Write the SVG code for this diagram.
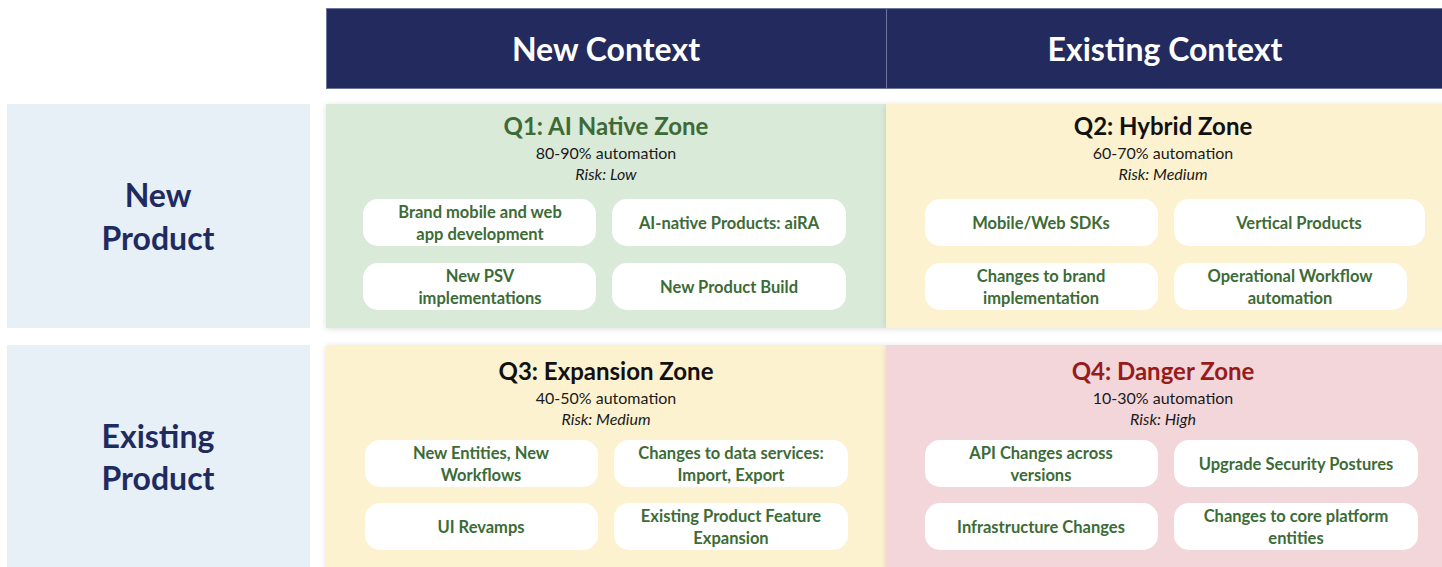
<svg xmlns="http://www.w3.org/2000/svg" width="1442" height="567" viewBox="0 0 1442 567">
  <defs>
    <filter id="soft" x="-5%" y="-10%" width="110%" height="120%">
      <feDropShadow dx="0" dy="1" stdDeviation="3" flood-color="#000" flood-opacity="0.12"/>
    </filter>
  </defs>
  <style>
    .hdr { fill: #222a5e; stroke: #6e76a0; stroke-width: 1; }
    .hdr-t { font-family: Lato, "Liberation Sans", sans-serif; font-weight: 700; font-size: 32px; fill: #ffffff; text-anchor: middle; }
    .rowbox { fill: #e8f0f7; }
    .row-t { font-family: Lato, "Liberation Sans", sans-serif; font-weight: 700; font-size: 32px; fill: #1f2a5e; text-anchor: middle; }
    .q1 { fill: #d9ead9; }
    .qy { fill: #fcf2d0; }
    .q4 { fill: #f3d6da; }
    .title { font-family: Lato, "Liberation Sans", sans-serif; font-weight: 700; font-size: 24px; text-anchor: middle; fill: #111111; }
    .green { fill: #3d6b35; }
    .red { fill: #961c1c; }
    .sub { font-family: Lato, "Liberation Sans", sans-serif; font-size: 16px; fill: #1a1a1a; text-anchor: middle; }
    .risk { font-style: italic; }
    .pill { fill: #ffffff; }
    .pill-t { font-family: Lato, "Liberation Sans", sans-serif; font-weight: 700; font-size: 16.5px; fill: #3d6b35; text-anchor: middle; }
  </style>

  <!-- column headers -->
  <g id="header-new-context">
    <rect class="hdr" x="326.5" y="8.5" width="560" height="80"/>
    <text class="hdr-t" x="606" y="61">New Context</text>
  </g>
  <g id="header-existing-context">
    <rect class="hdr" x="886.5" y="8.5" width="560" height="80"/>
    <text class="hdr-t" x="1165" y="61">Existing Context</text>
  </g>

  <!-- row headers -->
  <g id="row-new-product">
    <rect class="rowbox" x="7" y="104" width="303" height="224"/>
    <text class="row-t" x="158" y="207">New</text>
    <text class="row-t" x="158" y="250">Product</text>
  </g>
  <g id="row-existing-product">
    <rect class="rowbox" x="7" y="345" width="303" height="230"/>
    <text class="row-t" x="158" y="448">Existing</text>
    <text class="row-t" x="158" y="490">Product</text>
  </g>

  <!-- Q1 -->
  <g id="q1-ai-native">
    <rect class="q1" x="326" y="104" width="560" height="224" filter="url(#soft)"/>
    <text class="title green" x="606" y="135">Q1: AI Native Zone</text>
    <text class="sub" x="606" y="159">80-90% automation</text>
    <text class="sub risk" x="606" y="180">Risk: Low</text>
    <rect class="pill" x="363" y="199" width="233" height="47" rx="15"/>
    <text class="pill-t" x="480" y="218">Brand mobile and web</text>
    <text class="pill-t" x="480" y="240">app development</text>
    <rect class="pill" x="612" y="199" width="234" height="47" rx="15"/>
    <text class="pill-t" x="729" y="229">AI-native Products: aiRA</text>
    <rect class="pill" x="363" y="263" width="233" height="47" rx="15"/>
    <text class="pill-t" x="480" y="282">New PSV</text>
    <text class="pill-t" x="480" y="304">implementations</text>
    <rect class="pill" x="612" y="263" width="234" height="47" rx="15"/>
    <text class="pill-t" x="729" y="293">New Product Build</text>
  </g>

  <!-- Q2 -->
  <g id="q2-hybrid">
    <rect class="qy" x="886" y="104" width="570" height="224" filter="url(#soft)"/>
    <text class="title" x="1163" y="135">Q2: Hybrid Zone</text>
    <text class="sub" x="1163" y="159">60-70% automation</text>
    <text class="sub risk" x="1163" y="180">Risk: Medium</text>
    <rect class="pill" x="925" y="199" width="233" height="47" rx="15"/>
    <text class="pill-t" x="1041" y="229">Mobile/Web SDKs</text>
    <rect class="pill" x="1174" y="199" width="251" height="47" rx="15"/>
    <text class="pill-t" x="1299" y="229">Vertical Products</text>
    <rect class="pill" x="925" y="263" width="233" height="47" rx="15"/>
    <text class="pill-t" x="1041" y="282">Changes to brand</text>
    <text class="pill-t" x="1041" y="304">implementation</text>
    <rect class="pill" x="1174" y="263" width="233" height="47" rx="15"/>
    <text class="pill-t" x="1290" y="282">Operational Workflow</text>
    <text class="pill-t" x="1290" y="304">automation</text>
  </g>

  <!-- Q3 -->
  <g id="q3-expansion">
    <rect class="qy" x="326" y="345" width="560" height="230" filter="url(#soft)"/>
    <text class="title" x="606" y="380">Q3: Expansion Zone</text>
    <text class="sub" x="606" y="404">40-50% automation</text>
    <text class="sub risk" x="606" y="425">Risk: Medium</text>
    <rect class="pill" x="365" y="440" width="233" height="47" rx="15"/>
    <text class="pill-t" x="481" y="459">New Entities, New</text>
    <text class="pill-t" x="481" y="481">Workflows</text>
    <rect class="pill" x="614" y="440" width="234" height="47" rx="15"/>
    <text class="pill-t" x="731" y="459">Changes to data services:</text>
    <text class="pill-t" x="731" y="481">Import, Export</text>
    <rect class="pill" x="365" y="503" width="233" height="47" rx="15"/>
    <text class="pill-t" x="481" y="533">UI Revamps</text>
    <rect class="pill" x="614" y="503" width="234" height="47" rx="15"/>
    <text class="pill-t" x="731" y="522">Existing Product Feature</text>
    <text class="pill-t" x="731" y="544">Expansion</text>
  </g>

  <!-- Q4 -->
  <g id="q4-danger">
    <rect class="q4" x="886" y="345" width="570" height="230" filter="url(#soft)"/>
    <text class="title red" x="1163" y="380">Q4: Danger Zone</text>
    <text class="sub" x="1163" y="404">10-30% automation</text>
    <text class="sub risk" x="1163" y="425">Risk: High</text>
    <rect class="pill" x="925" y="440" width="233" height="47" rx="15"/>
    <text class="pill-t" x="1041" y="459">API Changes across</text>
    <text class="pill-t" x="1041" y="481">versions</text>
    <rect class="pill" x="1174" y="440" width="244" height="47" rx="15"/>
    <text class="pill-t" x="1296" y="470">Upgrade Security Postures</text>
    <rect class="pill" x="925" y="503" width="233" height="47" rx="15"/>
    <text class="pill-t" x="1041" y="533">Infrastructure Changes</text>
    <rect class="pill" x="1174" y="503" width="244" height="47" rx="15"/>
    <text class="pill-t" x="1296" y="522">Changes to core platform</text>
    <text class="pill-t" x="1296" y="544">entities</text>
  </g>

  <!-- no connectors in this matrix -->
  <g id="connectors"/>
</svg>
